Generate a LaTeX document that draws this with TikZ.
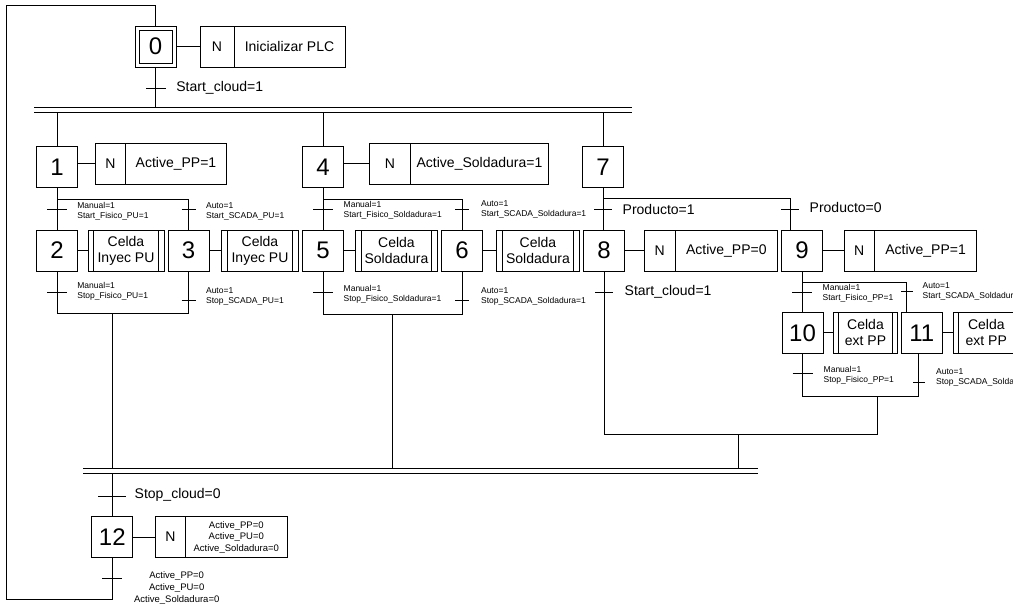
\documentclass[tikz,border=0pt]{standalone}
\usepackage{fontspec}
\setmainfont{Liberation Sans}
\tikzset{
  etapa/.style={draw, minimum width=41pt, minimum height=41pt, inner sep=0pt, outer sep=0pt, font=\fontsize{24}{24}\selectfont},
  accn/.style={draw, minimum height=41pt, inner sep=0pt, outer sep=0pt, font=\fontsize{14}{16}\selectfont},
  celda/.style={draw, minimum height=41pt, inner sep=0pt, outer sep=0pt, align=center, font=\fontsize{14}{16}\selectfont},
  cond/.style={anchor=west, inner sep=0pt, align=left, font=\fontsize{8.5}{10}\selectfont},
  condg/.style={anchor=west, inner sep=0pt, font=\fontsize{14}{16}\selectfont},
}
\begin{document}
\begin{tikzpicture}[x=1pt, y=-1pt, line width=0.8pt]
\useasboundingbox (0,0) rectangle (1013,605);
\coordinate (b1) at (0,112);
\coordinate (b2) at (0,468);
\coordinate (b3) at (0,473);
\coordinate (cv1) at (112,313);
\coordinate (cv2) at (392,314);
\coordinate (cv3) at (877,396);
\coordinate (junta) at (738,434);
\foreach \y in {107,112} \draw (34,\y) -- (632,\y);
\foreach \y in {468,473} \draw (83,\y) -- (758,\y);

\node[etapa] (e0) at (155.5,46.5) {0};
\draw ([shift={(4pt,4pt)}]e0.south west) rectangle ([shift={(-4pt,-4pt)}]e0.north east);
\node[accn, minimum width=34pt] (n0) at (217,46.5) {N};
\node[accn, minimum width=111pt, anchor=west] (a0) at (n0.east) {Inicializar PLC};

\node[etapa] (s1) at (57,167) {1};
\node[accn, minimum width=29.5pt] (n1) at (110.5,163.5) {N};
\node[accn, minimum width=101.5pt, anchor=west] (a1) at (n1.east) {Active\_PP=1};
\node[etapa] (s2) at (57,250.5) {2};
\node[celda, minimum width=76pt] (c2) at (126,250.5) {Celda\\Inyec PU};
\node[etapa] (s3) at (188.5,250.5) {3};
\node[celda, minimum width=76.6pt] (c3) at (260,250.5) {Celda\\Inyec PU};

\node[etapa] (s4) at (323,167) {4};
\node[accn, minimum width=41.4pt] (n4) at (390,163.5) {N};
\node[accn, minimum width=137.6pt, anchor=west] (a4) at (n4.east) {Active\_Soldadura=1};
\node[etapa] (s5) at (323,250.5) {5};
\node[celda, minimum width=81.6pt] (c5) at (396.5,250.5) {Celda\\Soldadura};
\node[etapa] (s6) at (462,250.5) {6};
\node[celda, minimum width=82.6pt] (c6) at (538,250.5) {Celda\\Soldadura};

\node[etapa] (s7) at (603,167) {7};
\node[etapa] (s8) at (604,250.5) {8};
\node[accn, minimum width=31.3pt] (n8) at (659.7,250.5) {N};
\node[accn, minimum width=102pt, anchor=west] (a8) at (n8.east) {Active\_PP=0};
\node[etapa] (s9) at (802,250.5) {9};
\node[accn, minimum width=30.3pt] (n9) at (859.2,250.5) {N};
\node[accn, minimum width=102.4pt, anchor=west] (a9) at (n9.east) {Active\_PP=1};
\node[etapa] (s10) at (802.5,333) {10};
\node[celda, minimum width=64.4pt] (c10) at (865.5,332.5) {Celda\\ext PP};
\node[etapa] (s11) at (921.7,333) {11};
\node[celda, minimum width=66pt] (c11) at (986.3,332.5) {Celda\\ext PP};

\node[etapa] (s12) at (112.3,537) {12};
\node[accn, minimum width=29.6pt] (n12) at (170.5,537) {N};
\node[accn, minimum width=102pt, anchor=west, align=center, font=\fontsize{9.5}{11.5}\selectfont] (a12) at (n12.east) {Active\_PP=0\\Active\_PU=0\\Active\_Soldadura=0};

\coordinate (s9d) at ([xshift=-12pt]s9.north);
\coordinate (s11a) at ([xshift=-15pt]s11.north);
\coordinate (s11b) at ([xshift=-3pt]s11.south);

\foreach \c in {c2,c3,c5,c6,c10,c11} {
  \draw ([xshift=5.5pt]\c.north west) -- ([xshift=5.5pt]\c.south west);
  \draw ([xshift=-5.5pt]\c.north east) -- ([xshift=-5.5pt]\c.south east);
}
\foreach \s/\a in {e0/n0,s1/n1,s4/n4,s2/c2,s3/c3,s5/c5,s6/c6,s8/n8,s9/n9,s10/c10,s11/c11,s12/n12}
  \draw (\s.east |- \a.west) -- (\a.west);

\draw (s12.south) |- (6,599) -- (6,5) -| (e0.north);
\draw (e0.south) -- (e0.south |- 0,107);
\foreach \s in {s1,s4,s7} \draw (\s.north) -- (\s.north |- b1);

\draw (s1.south) -- (s1.south |- s2.north);
\draw (s1.south |- 0,199) -| (s3.north);
\draw (s2.south) |- (cv1 -| s3.south) -- (s3.south);
\draw (cv1) -- (cv1 |- b2);

\draw (s4.south) -- (s4.south |- s5.north);
\draw (s4.south |- 0,199) -| (s6.north);
\draw (s5.south) |- (cv2 -| s6.south) -- (s6.south);
\draw (cv2) -- (cv2 |- b2);

\draw (s7.south) -- (s7.south |- s8.north);
\draw (s7.south |- 0,198) -| (s9d);
\draw (s9.south) -- (s9.south |- s10.north);
\draw (s9.south |- 0,282) -| (s11a);
\draw (s10.south) |- (cv3 -| s11b) -- (s11b);
\draw (s8.south) |- (cv3 |- junta) -- (cv3);
\draw (junta) -- (junta |- b2);

\draw (s12.north) -- (s12.north |- b3);

\foreach \x/\y/\w in {156/88/10, 57/209/10, 188.5/209/7, 57/292/10, 188.5/300/7, 323/209/10, 462/209/7, 323/292/10, 462/300.5/7, 603/209/9, 790/209/9, 604/292/9, 802/292/10, 907/291/6, 802.5/373/10, 919/382/6, 112/496/14, 112/578/10}
  \draw ({\x-\w},\y) -- ({\x+\w},\y);

\node[condg] (l0) at (176,88) {Start\_cloud=1};
\node[cond] (l1) at (77,211) {Manual=1\\Start\_Fisico\_PU=1};
\node[cond] (l2) at (205.7,211) {Auto=1\\Start\_SCADA\_PU=1};
\node[cond] (l3) at (77,291.7) {Manual=1\\Stop\_Fisico\_PU=1};
\node[cond] (l4) at (205.7,296.7) {Auto=1\\Stop\_SCADA\_PU=1};
\node[cond] (l5) at (343.3,210) {Manual=1\\Start\_Fisico\_Soldadura=1};
\node[cond] (l6) at (480.7,209.7) {Auto=1\\Start\_SCADA\_Soldadura=1};
\node[cond] (l7) at (343.3,294) {Manual=1\\Stop\_Fisico\_Soldadura=1};
\node[cond] (l8) at (480.7,296) {Auto=1\\Stop\_SCADA\_Soldadura=1};
\node[condg] (l9) at (622.3,209) {Producto=1};
\node[condg] (l10) at (809.3,207.7) {Producto=0};
\node[condg] (l11) at (624.3,292.3) {Start\_cloud=1};
\node[cond] (l12) at (822.3,293) {Manual=1\\Start\_Fisico\_PP=1};
\node[cond] (l13) at (922.3,291) {Auto=1\\Start\_SCADA\_Soldadura=1};
\node[cond] (l14) at (823.3,375) {Manual=1\\Stop\_Fisico\_PP=1};
\node[cond] (l15) at (935.7,377.3) {Auto=1\\Stop\_SCADA\_Soldadura=1};
\node[condg] (l16) at (134.3,495) {Stop\_cloud=0};
\node[align=center, inner sep=0pt, font=\fontsize{9.5}{12}\selectfont] (l17) at (176.7,587.7) {Active\_PP=0\\Active\_PU=0\\Active\_Soldadura=0};
\end{tikzpicture}
\end{document}
